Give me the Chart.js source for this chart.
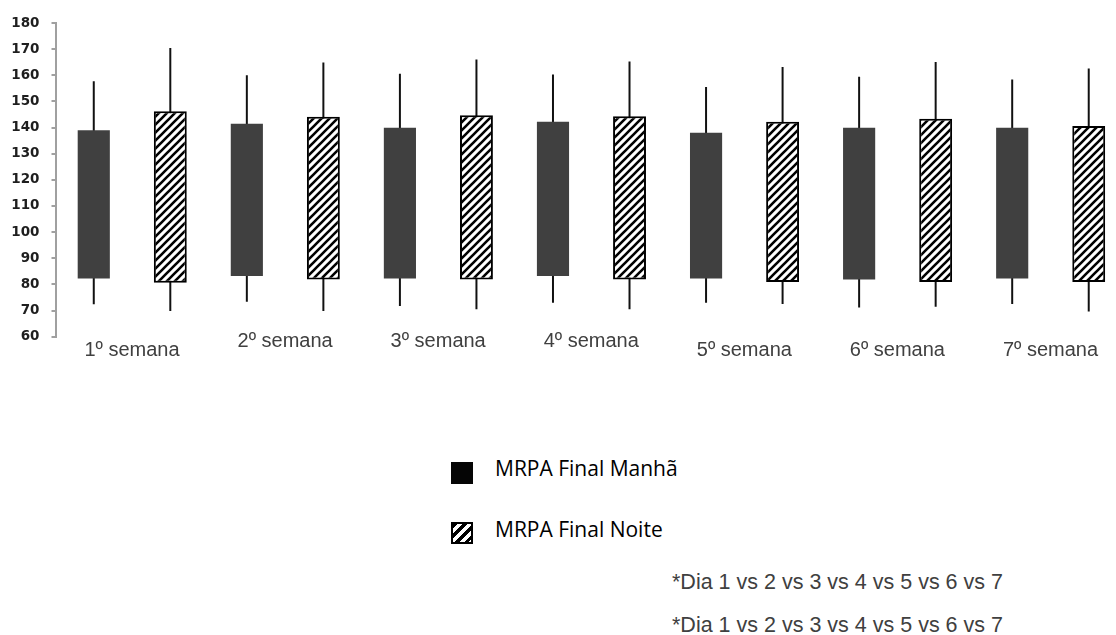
<!DOCTYPE html>
<html>
<head>
<meta charset="utf-8">
<script src="https://cdn.jsdelivr.net/npm/chart.js@4.4.1/dist/chart.umd.min.js"></script>
<style>
  html, body { margin: 0; padding: 0; background: #fff; overflow: hidden; }
  #wrap { position: relative; width: 1116px; height: 635px; overflow: hidden; }
  #c { position: absolute; left: 0; top: 0; }
  .sw { position: absolute; width: 22px; height: 22px; box-sizing: border-box; }
  .lg { position: absolute; font-family: "Open Sans", Lato, sans-serif; font-size: 21px; line-height: 24px; color: #000; white-space: nowrap; }
  .fn { position: absolute; font-family: "Liberation Sans", Arial, sans-serif; font-size: 21.5px; line-height: 24px; color: #404040; white-space: nowrap; }
</style>
</head>
<body>
<div id="wrap">
  <canvas id="c" width="1130" height="400"></canvas>
  <div class="sw" style="left:451px;top:462px;background:#050505;"></div>
  <div class="lg" style="left:495px;top:456px;">MRPA Final Manhã</div>
  <div class="sw" style="left:451px;top:522px;border:2px solid #000;background:repeating-linear-gradient(135deg,#000 0 3px,#fff 3px 7px);"></div>
  <div class="lg" style="left:495px;top:517px;">MRPA Final Noite</div>
  <div class="fn" style="left:672px;top:570px;">*Dia 1 vs 2 vs 3 vs 4 vs 5 vs 6 vs 7</div>
  <div class="fn" style="left:672px;top:613px;">*Dia 1 vs 2 vs 3 vs 4 vs 5 vs 6 vs 7</div>
</div>
<script>
// ---- data ----
const categories = ['1º semana', '2º semana', '3º semana', '4º semana', '5º semana', '6º semana', '7º semana'];
const manhaLow  = [72.4, 73.4, 71.7, 73.0, 73.0, 71.2, 72.5];
const manhaQ1   = [82.3, 83.2, 82.3, 83.2, 82.3, 81.9, 82.3];
const manhaQ3   = [139.0, 141.5, 139.9, 142.2, 138.0, 139.9, 139.9];
const manhaHigh = [157.7, 160.0, 160.6, 160.3, 155.5, 159.4, 158.4];
const noiteLow  = [69.8, 69.8, 70.5, 70.5, 72.5, 71.5, 69.6];
const noiteQ1   = [80.6, 81.9, 81.9, 81.9, 80.9, 80.9, 80.9];
const noiteQ3   = [146.2, 144.1, 144.7, 144.3, 142.2, 143.4, 140.6];
const noiteHigh = [170.4, 164.9, 166.0, 165.3, 163.2, 165.1, 162.6];
const yMin = 60, yMax = 180, yStep = 10;

// ---- style (label vertical stagger as in the reference) ----
const labelLineHeights = [1.37, 0.47, 0.47, 0.47, 1.37, 1.37, 1.37];

function pairs(a, b) { return a.map((v, i) => [v, b[i]]); }

function hatchPattern() {
  const s = 8;
  const cv = document.createElement('canvas');
  cv.width = s; cv.height = s;
  const g = cv.getContext('2d');
  g.fillStyle = '#fff';
  g.fillRect(0, 0, s, s);
  g.strokeStyle = '#000';
  g.lineWidth = 2.6;
  g.lineCap = 'square';
  g.beginPath();
  g.moveTo(0, s); g.lineTo(s, 0);
  g.moveTo(-s / 2, s / 2); g.lineTo(s / 2, -s / 2);
  g.moveTo(s / 2, s * 1.5); g.lineTo(s * 1.5, s / 2);
  g.stroke();
  return g.createPattern(cv, 'repeat');
}

const ctx = document.getElementById('c').getContext('2d');
new Chart(ctx, {
  type: 'bar',
  data: {
    labels: categories,
    datasets: [
      { label: 'MRPA Final Manhã', data: pairs(manhaQ1, manhaQ3), stack: 'M',
        backgroundColor: '#404040', borderWidth: 0,
        barPercentage: 0.42, categoryPercentage: 1 },
      { label: 'MRPA Final Noite', data: pairs(noiteQ1, noiteQ3), stack: 'N',
        backgroundColor: hatchPattern(), borderColor: '#000', borderWidth: 2, borderSkipped: false,
        barPercentage: 0.43, categoryPercentage: 1 },
      { label: 'Manhã min–máx', data: pairs(manhaLow, manhaHigh), stack: 'M',
        backgroundColor: '#111', borderWidth: 0,
        barPercentage: 0.026, categoryPercentage: 1 },
      { label: 'Noite min–máx', data: pairs(noiteLow, noiteHigh), stack: 'N',
        backgroundColor: '#111', borderWidth: 0,
        barPercentage: 0.026, categoryPercentage: 1 }
    ]
  },
  options: {
    responsive: false,
    animation: false,
    devicePixelRatio: 1,
    layout: { padding: { top: 23, right: 3, left: 0, bottom: 0 } },
    plugins: { legend: { display: false }, tooltip: { enabled: false } },
    scales: {
      x: {
        grid: { display: false, drawTicks: false },
        border: { display: false },
        ticks: {
          padding: 0,
          maxRotation: 0,
          autoSkip: false,
          color: '#404040',
          font: (c) => ({ family: '"Liberation Sans", Arial, sans-serif', size: 20,
                          lineHeight: labelLineHeights[c.index] || 1 })
        },
        afterFit: (axis) => {
          axis.height = 63.3;
          axis._computeLabelArea = () => undefined; // let staggered labels rise above the axis
        }
      },
      y: {
        stacked: false,
        min: yMin, max: yMax,
        grid: { display: true, drawOnChartArea: false, drawTicks: true, tickLength: 4,
                color: '#a0a0a0', lineWidth: 2 },
        border: { display: true, color: '#a0a0a0', width: 2 },
        ticks: {
          stepSize: yStep,
          padding: 12,
          color: '#1e1e1e',
          font: { family: '"DejaVu Sans", Verdana, sans-serif', size: 13.5, weight: 'bold' }
        },
        afterFit: (axis) => { axis.width = 55.5; }
      }
    }
  }
});
</script>
</body>
</html>
